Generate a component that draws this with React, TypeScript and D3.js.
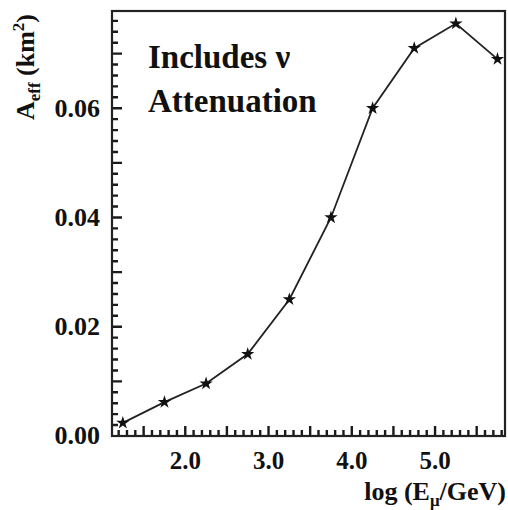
import { useRef, useEffect } from 'react';
import * as d3 from 'd3';

// log(E_mu/GeV) bin centres and effective area (km^2)
const energies = [1.25, 1.75, 2.25, 2.75, 3.25, 3.75, 4.25, 4.75, 5.25, 5.75];
const aeff = [0.0024, 0.0062, 0.0096, 0.015, 0.025, 0.04, 0.06, 0.071, 0.0755, 0.069];

const xLabelTicks = [2, 3, 4, 5];
const yLabelTicks = [0, 0.02, 0.04, 0.06];

export default function App() {
    const svgRef = useRef<SVGSVGElement | null>(null);
    const width = 508;
    const height = 510;

    useEffect(() => {
        if (!svgRef.current) return;
        d3.select(svgRef.current).selectAll('*').remove();

        const margin = { top: 11, right: 3, bottom: 74, left: 112 };
        const innerWidth = width - margin.left - margin.right;
        const innerHeight = height - margin.top - margin.bottom;
        const font = '"Liberation Serif", "Times New Roman", serif';

        const svg = d3.select(svgRef.current)
            .attr('width', width)
            .attr('height', height)
            .style('font-family', font);

        const g = svg.append('g')
            .attr('transform', `translate(${margin.left},${margin.top})`);

        const xScale = d3.scaleLinear().domain([1.12, 5.84]).range([0, innerWidth]);
        const yScale = d3.scaleLinear().domain([0, 0.0778]).range([innerHeight, 0]);

        // tick marks drawn inward from the bottom and left frame edges
        const xTicks = d3.range(12, 59).map(d => d / 10);
        const yTicks = d3.range(1, 39).map(d => d * 0.002);
        const isMajorX = (v: number) => Math.abs(v * 2 - Math.round(v * 2)) < 1e-6;
        const isMajorY = (v: number) => Math.abs(v * 100 - Math.round(v * 100)) < 1e-6;

        const tickPath = d3.path();
        xTicks.forEach(d => {
            tickPath.moveTo(xScale(d), innerHeight);
            tickPath.lineTo(xScale(d), innerHeight - (isMajorX(d) ? 10 : 6));
        });
        yTicks.forEach(d => {
            tickPath.moveTo(0, yScale(d));
            tickPath.lineTo(isMajorY(d) ? 10 : 6, yScale(d));
        });
        g.append('path')
            .attr('d', tickPath.toString())
            .attr('fill', 'none')
            .attr('stroke', '#1a1a1a')
            .attr('stroke-width', 2.4);

        // tick labels
        g.append('g').selectAll('text')
            .data(xLabelTicks)
            .enter().append('text')
            .attr('x', d => xScale(d))
            .attr('y', innerHeight + 15)
            .attr('dy', '0.71em')
            .attr('text-anchor', 'middle')
            .attr('font-size', 25)
            .attr('font-weight', 'bold')
            .attr('fill', '#111')
            .text(d => d3.format('.1f')(d));

        g.append('g').selectAll('text')
            .data(yLabelTicks)
            .enter().append('text')
            .attr('x', -12)
            .attr('y', d => yScale(d))
            .attr('dy', '0.32em')
            .attr('text-anchor', 'end')
            .attr('font-size', 26)
            .attr('font-weight', 'bold')
            .attr('fill', '#111')
            .text(d => d3.format('.2f')(d));

        // frame
        g.append('rect')
            .attr('width', innerWidth)
            .attr('height', innerHeight)
            .attr('fill', 'none')
            .attr('stroke', '#222')
            .attr('stroke-width', 2.2);

        const pts = energies.map((e, i) => [e, aeff[i]] as [number, number]);

        const line = d3.line<[number, number]>()
            .x(d => xScale(d[0]))
            .y(d => yScale(d[1]));

        g.append('path')
            .datum(pts)
            .attr('fill', 'none')
            .attr('stroke', '#222')
            .attr('stroke-width', 1.8)
            .attr('d', line);

        g.selectAll('.mk')
            .data(pts)
            .enter().append('path')
            .attr('class', 'mk')
            .attr('transform', d => `translate(${xScale(d[0])},${yScale(d[1])})`)
            .attr('d', d3.symbol(d3.symbolStar, 55)())
            .attr('fill', '#111');

        // annotation
        const note = g.append('text')
            .attr('font-size', 33)
            .attr('font-weight', 'bold')
            .attr('fill', '#111');
        note.append('tspan').attr('x', 36).attr('y', 57).text('Includes ν');
        note.append('tspan').attr('x', 36).attr('y', 101).text('Attenuation');

        // y title
        const yt = svg.append('text')
            .attr('transform', 'translate(34,67) rotate(-90)')
            .attr('text-anchor', 'middle')
            .attr('font-size', 26)
            .attr('font-weight', 'bold')
            .attr('fill', '#111');
        yt.append('tspan').text('A');
        yt.append('tspan').attr('font-size', 17).attr('dy', 6).text('eff');
        yt.append('tspan').attr('dy', -6).text(' (km');
        yt.append('tspan').attr('font-size', 17).attr('dy', -10).text('2');
        yt.append('tspan').attr('dy', 10).text(')');

        // x title
        const xt = svg.append('text')
            .attr('x', 506)
            .attr('y', 500)
            .attr('text-anchor', 'end')
            .attr('font-size', 26)
            .attr('font-weight', 'bold')
            .attr('fill', '#111');
        xt.append('tspan').text('log (E');
        xt.append('tspan').attr('font-size', 17).attr('dy', 6).text('μ');
        xt.append('tspan').attr('dy', -6).text('/GeV)');
    }, []);

    return (
        <svg ref={svgRef} style={{ position: 'absolute', left: 0, top: 0, background: '#fff' }} />
    );
}
